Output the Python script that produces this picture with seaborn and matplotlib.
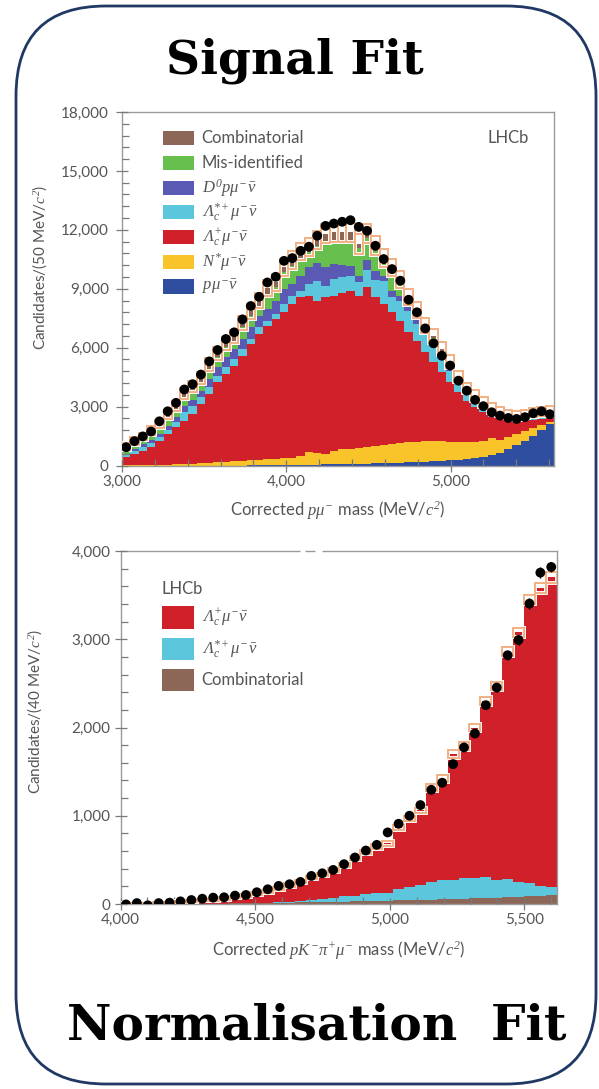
import numpy as np
import pandas as pd
import matplotlib
matplotlib.use("Agg")
import matplotlib.pyplot as plt
import matplotlib.transforms as mtransforms
from matplotlib.patches import Rectangle, FancyBboxPatch
from matplotlib.ticker import MultipleLocator, StrMethodFormatter
import seaborn as sns

# ---------------- Signal fit: corrected p mu- mass ----------------
sig_range = (3000, 5630)
sig_nbins = 52
sig_data = [930, 1240, 1480, 1730, 2250, 2760, 3190, 3870, 4140, 4630,
            5300, 5880, 6440, 6780, 7440, 8120, 8590, 9320, 9610, 10420,
            10560, 10930, 11140, 11700, 12200, 12320, 12410, 12490, 12150, 11950,
            11190, 10510, 10000, 9410, 8440, 7800, 6980, 6220, 5590, 5090,
            4320, 3810, 3340, 3020, 2710, 2540, 2420, 2370, 2460, 2660,
            2760, 2610]
sig_p = [0, 0, 0, 0, 0, 0, 0, 0, 0, 0,
         0, 0, 0, 0, 0, 5, 10, 15, 20, 25,
         30, 40, 45, 50, 60, 65, 70, 80, 90, 100,
         110, 120, 135, 150, 165, 180, 200, 220, 240, 260,
         290, 320, 360, 420, 520, 650, 820, 1020, 1250, 1500,
         1800, 2100]
sig_nstar = [10, 15, 20, 30, 40, 50, 65, 80, 100, 120,
             140, 160, 190, 210, 230, 250, 280, 300, 320, 340,
             370, 420, 635, 570, 540, 695, 750, 780, 810, 860,
             890, 930, 965, 1000, 1015, 1030, 1030, 1020, 1000, 960,
             910, 870, 850, 830, 860, 650, 630, 600, 510, 400,
             250, 100]
sig_lc = [410, 575, 740, 900, 1230, 1560, 1885, 2210, 2530, 3020,
          3500, 4080, 4470, 4875, 5360, 5935, 6410, 6805, 7120, 7435,
          7820, 8100, 7930, 7770, 7960, 7880, 7940, 8040, 7740, 8140,
          7560, 7170, 6700, 6220, 5600, 5150, 4530, 4010, 3510, 3020,
          2530, 2110, 1760, 1460, 1110, 1070, 840, 580, 530, 420,
          320, 220]
sig_lcstar = [90, 140, 170, 205, 170, 200, 250, 420, 420, 330,
              340, 340, 340, 335, 340, 250, 330, 250, 250, 420,
              420, 340, 630, 1020, 590, 850, 820, 760, 680, 850,
              890, 1190, 760, 1020, 1100, 840, 940, 940, 760, 590,
              510, 340, 370, 290, 220, 170, 130, 120, 80, 90,
              90, 70]
sig_d0 = [80, 120, 140, 175, 170, 220, 260, 340, 290, 340,
          430, 420, 510, 510, 510, 590, 600, 600, 680, 760,
          600, 760, 850, 880, 940, 760, 640, 510, 340, 510,
          450, 250, 340, 250, 170, 340, 160, 170, 170, 170,
          80, 90, 50, 50, 50, 50, 40, 40, 40, 50,
          50, 50]
sig_misid = [210, 220, 240, 270, 340, 340, 370, 420, 470, 430,
             510, 510, 510, 430, 590, 600, 510, 760, 680, 850,
             930, 930, 760, 900, 1320, 1160, 1220, 1240, 1440, 1120,
             1030, 590, 930, 600, 340, 170, 90, 120, 120, 170,
             90, 80, 80, 90, 70, 70, 80, 60, 80, 80,
             80, 90]
sig_comb = [170, 170, 165, 200, 170, 220, 220, 210, 210, 220,
            220, 200, 200, 200, 210, 220, 250, 300, 250, 260,
            290, 310, 290, 280, 400, 460, 460, 460, 170, 230,
            260, 310, 260, 250, 170, 210, 170, 120, 150, 130,
            120, 140, 90, 80, 100, 100, 90, 120, 140, 170,
            170, 170]
sig_fit_err = [180, 190, 200, 210, 220, 240, 250, 270, 280, 300,
               310, 320, 330, 340, 350, 370, 380, 400, 410, 430,
               440, 450, 460, 470, 480, 490, 500, 500, 500, 500,
               490, 470, 450, 430, 410, 390, 370, 350, 330, 310,
               290, 270, 260, 250, 240, 230, 220, 220, 220, 220,
               220, 220]
sig_labels = ["Combinatorial", "Mis-identified",
              r"$D^{0}p\mu^{-}\bar{\nu}$",
              r"$\Lambda_{c}^{*+}\mu^{-}\bar{\nu}$",
              r"$\Lambda_{c}^{+}\mu^{-}\bar{\nu}$",
              r"$N^{*}\mu^{-}\bar{\nu}$",
              r"$p\mu^{-}\bar{\nu}$"]
sig_colors = ["#8c6657", "#67c04e", "#5a59b3", "#5cc7dc", "#d0202a", "#f8c42a", "#2f4ea0"]
sig_yticks = [0, 3000, 6000, 9000, 12000, 15000, 18000]
sig_xticks = [3000, 4000, 5000]

# ---------------- Normalisation fit: corrected p K- pi+ mu- mass ----------------
norm_range = (4000, 5620)
norm_nbins = 40
norm_data = [-5, 10, -15, 10, 15, 30, 45, 60, 72, 76,
             95, 102, 133, 167, 205, 224, 250, 318, 348, 386,
             451, 527, 606, 670, 811, 909, 1000, 1121, 1294, 1374,
             1585, 1774, 1932, 2253, 2453, 2819, 2992, 3404, 3755, 3819]
norm_lc = [3, 5, 8, 12, 16, 21, 28, 37, 46, 57,
           72, 87, 106, 129, 158, 191, 217, 260, 273, 320,
           350, 425, 476, 529, 569, 703, 780, 844, 1066, 1147,
           1427, 1498, 1700, 1993, 2197, 2580, 2826, 3215, 3375, 3510]
norm_lcstar = [0, 0, 0, 0, 0, 0, 0, 0, 0, 0,
               0, 0, 2, 4, 6, 8, 20, 20, 40, 40,
               68, 65, 82, 86, 83, 127, 147, 170, 204, 220,
               217, 232, 236, 239, 201, 202, 170, 145, 109, 90]
norm_comb = [0, 0, 0, 0, 0, 1, 2, 3, 4, 5,
             6, 8, 10, 12, 14, 16, 18, 20, 22, 25,
             27, 30, 32, 35, 38, 40, 43, 46, 50, 53,
             56, 60, 64, 68, 72, 78, 84, 90, 96, 100]
norm_fit_err = [8, 8, 8, 9, 9, 10, 10, 11, 12, 12,
                13, 14, 15, 16, 17, 18, 19, 20, 21, 22,
                23, 24, 26, 27, 28, 30, 31, 33, 36, 38,
                40, 42, 44, 46, 48, 50, 52, 55, 58, 60]
norm_labels = [r"$\Lambda_{c}^{+}\mu^{-}\bar{\nu}$",
               r"$\Lambda_{c}^{*+}\mu^{-}\bar{\nu}$",
               "Combinatorial"]
norm_colors = ["#d0202a", "#5cc7dc", "#8c6657"]
norm_yticks = [0, 1000, 2000, 3000, 4000]
norm_xticks = [4000, 4500, 5000, 5500]

# ---------------- style ----------------
sns.set_theme(style="white")
plt.rcParams["font.family"] = ["Lato", "DejaVu Sans"]
# italic serif maths, with the capital Greek letters slanted as well
plt.rcParams["mathtext.fontset"] = "custom"
plt.rcParams["mathtext.rm"] = "Liberation Serif:italic"
plt.rcParams["mathtext.it"] = "Liberation Serif:italic"
plt.rcParams["mathtext.bf"] = "Liberation Serif:bold"

TEXT = "#555555"
SPINE = "#9a9a9a"
BOX = "#f3b082"
FRAME = "#1f3864"

W, H = 599, 1089
fig = plt.figure(figsize=(W / 100, H / 100), dpi=100)


def px_axes(left, top, right, bottom):
    return fig.add_axes([left / W, 1 - bottom / H, (right - left) / W, (bottom - top) / H])


def draw_fit(ax, rng, nbins, comps, labels, colors, data, fit_err):
    edges = np.linspace(rng[0], rng[1], nbins + 1)
    centers = 0.5 * (edges[:-1] + edges[1:])
    width = edges[1] - edges[0]
    frames = [pd.DataFrame({"mass": centers, "count": vals, "component": lab})
              for lab, vals in zip(labels, comps)]
    df = pd.concat(frames, ignore_index=True)
    sns.histplot(data=df, x="mass", weights="count", hue="component",
                 hue_order=labels, palette=dict(zip(labels, colors)),
                 bins=nbins, binrange=rng, multiple="stack", element="step",
                 fill=True, alpha=1, linewidth=0, legend=False, ax=ax)
    total = np.sum(np.array(comps, dtype=float), axis=0)
    err = np.array(fit_err, dtype=float)
    # fit total with its uncertainty as open boxes
    ax.bar(centers, 2 * err, bottom=total - err, width=width, fill=False,
           edgecolor="white", linewidth=2.8, zorder=3)
    ax.bar(centers, 2 * err, bottom=total - err, width=width, fill=False,
           edgecolor=BOX, linewidth=1.4, zorder=4)
    d = np.array(data, dtype=float)
    ax.errorbar(centers, d, yerr=np.sqrt(np.abs(d)), fmt="none", ecolor="black",
                elinewidth=1.0, capsize=0, zorder=5)
    sns.scatterplot(x=centers, y=d, color="black", s=50, edgecolor="none",
                    zorder=6, legend=False, ax=ax)
    ax.set_xlim(rng)


def style_axes(ax, xticks, yticks, xminor, yminor, xlabel, ylabel, ypad, xfs, yfs):
    ax.set_xticks(xticks)
    ax.set_yticks(yticks)
    ax.set_ylim(yticks[0], yticks[-1])
    ax.xaxis.set_minor_locator(MultipleLocator(xminor))
    ax.yaxis.set_minor_locator(MultipleLocator(yminor))
    fmt = StrMethodFormatter("{x:,.0f}")
    ax.xaxis.set_major_formatter(fmt)
    ax.yaxis.set_major_formatter(fmt)
    for s in ax.spines.values():
        s.set_visible(True)
        s.set_color(SPINE)
        s.set_linewidth(1.0)
    ax.tick_params(which="major", direction="inout", length=9, width=0.9,
                   color="#7a7a7a", labelsize=11, labelcolor=TEXT,
                   bottom=True, left=True, top=False, right=False)
    ax.tick_params(which="minor", direction="in", length=5, width=0.9,
                   color="#7a7a7a", bottom=True, left=True, top=False, right=False)
    ax.tick_params(axis="x", which="major", pad=2)
    ax.tick_params(axis="y", which="major", pad=ypad)
    ax.set_xlabel(xlabel, fontsize=xfs, color=TEXT)
    ax.set_ylabel(ylabel, fontsize=yfs, color=TEXT)
    ax.set_facecolor("white")
    ax.set_axisbelow(False)


def legend_boxes(ax, labels, colors, x0, w, xt, y0, dy, h, fs):
    for i, (lab, col) in enumerate(zip(labels, colors)):
        y = y0 - i * dy
        ax.add_patch(Rectangle((x0, y - h / 2), w, h, transform=ax.transAxes,
                               facecolor=col, edgecolor="none", zorder=7))
        ax.text(xt, y, lab, transform=ax.transAxes, fontsize=fs, color=TEXT,
                va="center", ha="left", zorder=7)


# ---------------- top panel ----------------
ax1 = px_axes(122, 112, 554, 465.5)
draw_fit(ax1, sig_range, sig_nbins,
         [sig_comb, sig_misid, sig_d0, sig_lcstar, sig_lc, sig_nstar, sig_p],
         sig_labels, sig_colors, sig_data, sig_fit_err)
style_axes(ax1, sig_xticks, sig_yticks, 200, 600,
           r"Corrected $p\mu^{-}$ mass (MeV/$c^{2}$)",
           r"Candidates/(50 MeV/$c^{2}$)", 5, 12, 11)
ax1.xaxis.set_label_coords(0.5, -0.095)
ax1.yaxis.set_label_coords(-0.17, 0.56)
legend_boxes(ax1, sig_labels, sig_colors, 0.094, 0.0725, 0.1845, 0.9256, 0.0699, 0.04, 12)
ax1.text(0.847, 0.926, "LHCb", transform=ax1.transAxes, fontsize=12, color=TEXT,
         va="center", ha="left")

# ---------------- bottom panel ----------------
ax2 = px_axes(120.5, 551, 556.7, 904)
draw_fit(ax2, norm_range, norm_nbins,
         [norm_lc, norm_lcstar, norm_comb],
         norm_labels, norm_colors, norm_data, norm_fit_err)
style_axes(ax2, norm_xticks, norm_yticks, 100, 200,
           r"Corrected $pK^{-}\pi^{+}\mu^{-}$ mass (MeV/$c^{2}$)",
           r"Candidates/(40 MeV/$c^{2}$)", 2.5, 12, 11)
ax2.xaxis.set_label_coords(0.5, -0.10)
ax2.yaxis.set_label_coords(-0.175, 0.545)
ax2.text(0.094, 0.892, "LHCb", transform=ax2.transAxes, fontsize=12, color=TEXT,
         va="center", ha="left")
legend_boxes(ax2, norm_labels, norm_colors, 0.0945, 0.0745, 0.186, 0.8116, 0.088, 0.0625, 12)

# small break in the upper frame line of the lower panel
brk = mtransforms.blended_transform_factory(ax2.transData, ax2.transAxes)
for x_a, x_b in [(4666, 4686), (4722, 4749)]:
    ax2.plot([x_a, x_b], [1, 1], transform=brk, color="white", lw=2.2,
             solid_capstyle="butt", clip_on=False, zorder=10)

# ---------------- frame and titles ----------------
over = fig.add_axes([0, 0, 1, 1], zorder=-1)
over.set_xlim(0, W)
over.set_ylim(H, 0)
over.axis("off")
over.add_patch(FancyBboxPatch((16, 6), 580, 1078,
                              boxstyle="round,pad=0,rounding_size=90",
                              facecolor="white", edgecolor=FRAME, linewidth=2.0))
over.text(295, 73, "Signal Fit", fontsize=34, fontweight="bold",
          family="DejaVu Serif", ha="center", va="baseline", color="black")
over.text(317, 1040, "Normalisation  Fit", fontsize=35, fontweight="bold",
          family="DejaVu Serif", ha="center", va="baseline", color="black")

fig.savefig("out.png", dpi=100)
